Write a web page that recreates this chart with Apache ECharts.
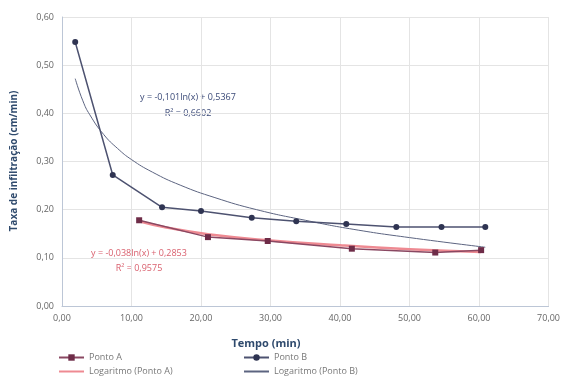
<!DOCTYPE html>
<html>
<head>
<meta charset="utf-8">
<script src="https://cdn.jsdelivr.net/npm/echarts@6/dist/echarts.min.js"></script>
<style>
  html, body { margin: 0; padding: 0; background: #fff; }
  #chart { width: 563px; height: 383px; }
</style>
</head>
<body>
<div id="chart"></div>
<script>
// Ponto A
const tempoA = [11.1, 21.0, 29.6, 41.7, 53.7, 60.3];
const taxaA = [0.178, 0.143, 0.135, 0.119, 0.111, 0.116];
// Ponto B
const tempoB = [1.9, 7.3, 14.4, 20.0, 27.3, 33.7, 40.9, 48.1, 54.6, 60.9];
const taxaB = [0.548, 0.272, 0.205, 0.197, 0.183, 0.176, 0.170, 0.164, 0.164, 0.164];
// trend lines
const logTempoA = [11.1, 15, 21, 30, 40, 50, 60.3];
const logTaxaA = [0.176, 0.163, 0.149, 0.136, 0.126, 0.118, 0.112];
const logTempoB = [1.9, 3, 4, 6, 8, 10, 13, 17, 22, 28, 35, 42, 50, 60.9];
const logTaxaB = [0.472, 0.426, 0.397, 0.356, 0.327, 0.304, 0.278, 0.251, 0.225, 0.200, 0.178, 0.159, 0.142, 0.122];

const xTicks = [0, 10, 20, 30, 40, 50, 60, 70];
const yTicks = [0, 0.1, 0.2, 0.3, 0.4, 0.5, 0.6];

function pares(xs, ys) {
    return xs.map((x, i) => [x, ys[i]]);
}
function virgula(v) {
    return v.toFixed(2).replace('.', ',');
}

const fonte = 'Open Sans';
const chart = echarts.init(document.getElementById('chart'));

const semSimbolo = { opacity: 0 };

chart.setOption({
    animation: false,
    textStyle: { fontFamily: fonte },
    grid: { left: 62, right: 11, top: 17, bottom: 77 },
    xAxis: {
        type: 'value',
        min: xTicks[0],
        max: xTicks[xTicks.length - 1],
        interval: 10,
        axisLine: { lineStyle: { color: '#bcc6d6' } },
        axisTick: { show: false },
        axisLabel: { color: '#666', fontSize: 9, formatter: virgula, margin: 8 },
        splitLine: { lineStyle: { color: '#e4e4e4' } }
    },
    yAxis: {
        type: 'value',
        min: yTicks[0],
        max: yTicks[yTicks.length - 1],
        interval: 0.1,
        axisLine: { show: true, lineStyle: { color: '#bcc6d6' } },
        axisTick: { show: false },
        axisLabel: { color: '#666', fontSize: 9, formatter: virgula, margin: 8 },
        splitLine: { lineStyle: { color: '#e4e4e4' } }
    },
    legend: [
        {
            left: 53, top: 348, orient: 'vertical', itemGap: 5,
            itemWidth: 25, itemHeight: 8,
            textStyle: { color: '#777', fontSize: 9 },
            data: ['Ponto A', { name: 'Logaritmo (Ponto A)', itemStyle: semSimbolo }]
        },
        {
            left: 238, top: 348, orient: 'vertical', itemGap: 5,
            itemWidth: 25, itemHeight: 8,
            textStyle: { color: '#777', fontSize: 9 },
            data: ['Ponto B', { name: 'Logaritmo (Ponto B)', itemStyle: semSimbolo }]
        }
    ],
    graphic: [
        {
            type: 'text', x: 14, y: 161, rotation: Math.PI / 2,
            style: {
                text: 'Taxa de infiltração (cm/min)', fill: '#2f4a6d',
                font: 'bold 10px "Open Sans"', align: 'center', verticalAlign: 'middle'
            }
        },
        {
            type: 'text', x: 266, y: 344,
            style: {
                text: 'Tempo (min)', fill: '#2f4a6d',
                font: 'bold 11px "Open Sans"', align: 'center', verticalAlign: 'middle'
            }
        },
        {
            type: 'text', x: 188, y: 97,
            style: {
                text: 'y = -0,101ln(x) + 0,5367', fill: '#3b4a78',
                font: '9px "Open Sans"', align: 'center', verticalAlign: 'middle'
            }
        },
        {
            type: 'text', x: 188, y: 113,
            style: {
                text: 'R² = 0,6602', fill: '#3b4a78',
                font: '9px "Open Sans"', align: 'center', verticalAlign: 'middle'
            }
        },
        {
            type: 'text', x: 139, y: 253,
            style: {
                text: 'y = -0,038ln(x) + 0,2853', fill: '#d9606e',
                font: '9px "Open Sans"', align: 'center', verticalAlign: 'middle'
            }
        },
        {
            type: 'text', x: 139, y: 268,
            style: {
                text: 'R² = 0,9575', fill: '#d9606e',
                font: '9px "Open Sans"', align: 'center', verticalAlign: 'middle'
            }
        }
    ],
    series: [
        {
            name: 'Logaritmo (Ponto A)',
            type: 'line',
            data: pares(logTempoA, logTaxaA),
            smooth: true,
            symbol: 'none',
            lineStyle: { color: '#ee8a92', width: 2.5 },
            itemStyle: { color: '#ee8a92' },
            z: 1
        },
        {
            name: 'Logaritmo (Ponto B)',
            type: 'line',
            data: pares(logTempoB, logTaxaB),
            smooth: true,
            symbol: 'none',
            lineStyle: { color: '#5c6480', width: 1 },
            itemStyle: { color: '#5c6480' },
            z: 1
        },
        {
            name: 'Ponto A',
            type: 'line',
            data: pares(tempoA, taxaA),
            symbol: 'rect',
            symbolSize: 6,
            lineStyle: { color: '#8a4862', width: 1.5 },
            itemStyle: { color: '#6e2c48' },
            z: 3
        },
        {
            name: 'Ponto B',
            type: 'line',
            data: pares(tempoB, taxaB),
            symbol: 'circle',
            symbolSize: 6,
            lineStyle: { color: '#4d5270', width: 1.5 },
            itemStyle: { color: '#2f3452' },
            z: 3
        }
    ]
});
</script>
</body>
</html>
